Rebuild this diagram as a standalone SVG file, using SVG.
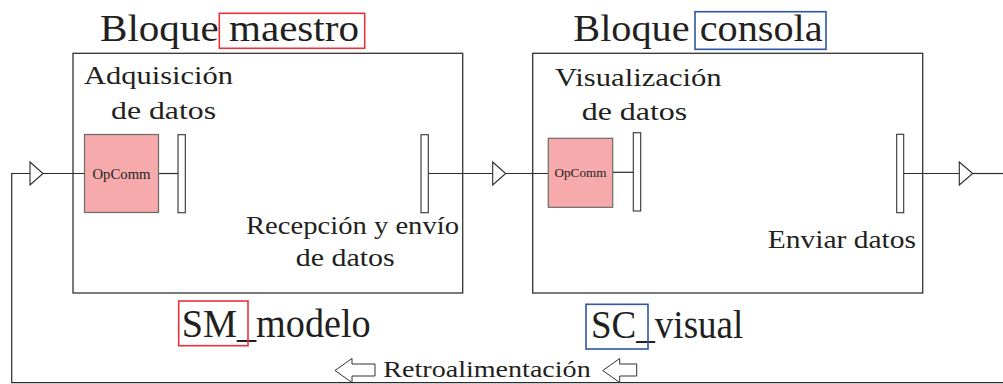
<svg xmlns="http://www.w3.org/2000/svg" width="1003" height="384" viewBox="0 0 1003 384">
  <style>
    .txt { font-family: "Liberation Serif", "Times New Roman", serif; fill: #231f20; }
    .block { fill: none; stroke: #333333; stroke-width: 1.3; }
    .op { fill: #f6aaab; stroke: #6a6a6a; stroke-width: 1.2; }
    .bar { fill: #ffffff; stroke: #333333; stroke-width: 1.1; }
    .wire { fill: none; stroke: #2a2a2a; stroke-width: 1.2; }
    .tri { fill: #ffffff; stroke: #2a2a2a; stroke-width: 1.1; }
    .hl-red { fill: none; stroke: #e8323c; stroke-width: 1.6; }
    .hl-blue { fill: none; stroke: #2f55a4; stroke-width: 1.6; }
    .barrow { fill: #ffffff; stroke: #333333; stroke-width: 1; }
  </style>
  <rect width="1003" height="384" fill="#ffffff"/>

  <!-- connectors -->
  <g id="connectors">
    <!-- feedback loop -->
    <polyline class="wire" points="1003,382.7 11.7,382.7 11.7,173.5 30,173.5"/>
    <line class="wire" x1="43" y1="173.5" x2="85" y2="173.5"/>
    <line class="wire" x1="158.5" y1="173.5" x2="178" y2="173.5"/>
    <line class="wire" x1="428.3" y1="173.5" x2="492.7" y2="173.5"/>
    <line class="wire" x1="505.7" y1="173.5" x2="548.3" y2="173.5"/>
    <line class="wire" x1="612.7" y1="172.3" x2="633.3" y2="172.3"/>
    <line class="wire" x1="903.7" y1="173.5" x2="959.3" y2="173.5"/>
    <line class="wire" x1="972.7" y1="173.5" x2="1003" y2="173.5"/>
    <polygon class="tri" points="30,162 43,173.5 30,185"/>
    <polygon class="tri" points="492.7,162 505.7,173.5 492.7,185"/>
    <polygon class="tri" points="959.3,162 972.7,173.5 959.3,185"/>
  </g>

  <!-- master block -->
  <g id="bloque-maestro">
    <text class="txt" x="100" y="40.7" font-size="38" textLength="259" lengthAdjust="spacingAndGlyphs">Bloque maestro</text>
    <rect class="hl-red" x="219.3" y="13.3" width="145.4" height="35"/>
    <rect class="block" x="73" y="53.3" width="389.7" height="239.7"/>
    <text class="txt" x="84" y="84.3" font-size="26" textLength="149" lengthAdjust="spacingAndGlyphs">Adquisición</text>
    <text class="txt" x="111" y="119" font-size="26" textLength="105" lengthAdjust="spacingAndGlyphs">de datos</text>
    <text class="txt" x="246" y="234" font-size="26" textLength="213" lengthAdjust="spacingAndGlyphs">Recepción y envío</text>
    <text class="txt" x="295.7" y="266" font-size="26" textLength="99" lengthAdjust="spacingAndGlyphs">de datos</text>
  </g>

  <g id="opcomm-maestro">
    <rect class="op" x="84.5" y="134.5" width="74" height="78"/>
    <text class="txt" x="121.5" y="179" font-size="14.5" text-anchor="middle" textLength="58" lengthAdjust="spacingAndGlyphs">OpComm</text>
  </g>
  <g id="bar-adquisicion"><rect class="bar" x="178" y="134.7" width="7.3" height="78"/></g>
  <g id="bar-recepcion"><rect class="bar" x="421" y="134.7" width="7.3" height="78"/></g>

  <g id="label-sm-modelo">
    <text class="txt" x="181.7" y="336.7" font-size="40" textLength="189" lengthAdjust="spacingAndGlyphs">SM_modelo</text>
    <rect class="hl-red" x="178.7" y="301" width="69.3" height="44.7"/>
  </g>

  <!-- console block -->
  <g id="bloque-consola">
    <text class="txt" x="573.3" y="41.3" font-size="38" textLength="249.4" lengthAdjust="spacingAndGlyphs">Bloque consola</text>
    <rect class="hl-blue" x="695" y="11.7" width="131" height="37.6"/>
    <rect class="block" x="532.7" y="53.3" width="390" height="239.7"/>
    <text class="txt" x="555" y="86" font-size="26" textLength="166.7" lengthAdjust="spacingAndGlyphs">Visualización</text>
    <text class="txt" x="581.7" y="120" font-size="26" textLength="105.6" lengthAdjust="spacingAndGlyphs">de datos</text>
    <text class="txt" x="767.7" y="248.3" font-size="26" textLength="148.3" lengthAdjust="spacingAndGlyphs">Enviar datos</text>
  </g>

  <g id="opcomm-consola">
    <rect class="op" x="548.3" y="138.3" width="64.4" height="69"/>
    <text class="txt" x="580.5" y="177" font-size="13" text-anchor="middle" textLength="52" lengthAdjust="spacingAndGlyphs">OpComm</text>
  </g>
  <g id="bar-visualizacion"><rect class="bar" x="633.3" y="132.7" width="7.4" height="78.3"/></g>
  <g id="bar-enviar"><rect class="bar" x="896.7" y="134.3" width="7" height="78.4"/></g>

  <g id="label-sc-visual">
    <text class="txt" x="591" y="337.7" font-size="40" textLength="152.3" lengthAdjust="spacingAndGlyphs">SC_visual</text>
    <rect class="hl-blue" x="586" y="304.3" width="62" height="44.7"/>
  </g>

  <!-- feedback label -->
  <g id="retroalimentacion">
    <polygon class="barrow" points="335,370.5 352,358.5 352,364 375,364 375,376 352,376 352,382.5"/>
    <text class="txt" x="383.3" y="377.3" font-size="22.5" textLength="207.4" lengthAdjust="spacingAndGlyphs">Retroalimentación</text>
    <polygon class="barrow" points="602.7,370.5 619.7,358.5 619.7,364 636.7,364 636.7,376 619.7,376 619.7,382.5"/>
  </g>
</svg>
